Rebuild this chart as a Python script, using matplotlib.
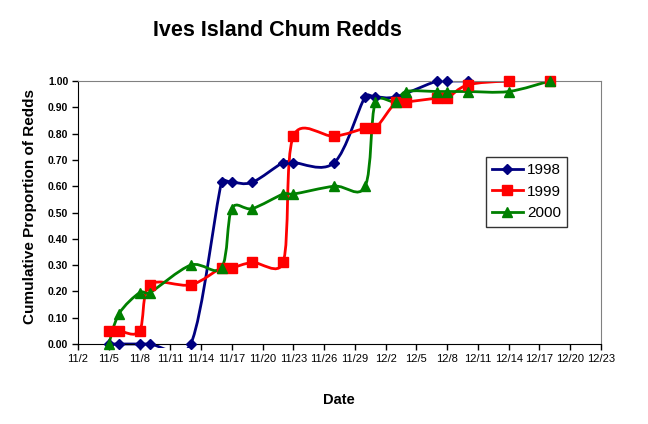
import datetime as dt
import numpy as np
import matplotlib
matplotlib.use("Agg")
import matplotlib.pyplot as plt
from matplotlib.path import Path
from matplotlib.patches import PathPatch, Rectangle
from matplotlib.lines import Line2D

plt.rcParams['font.family'] = ['Liberation Sans', 'DejaVu Sans']

# ---------------------------------------------------------------------------
# data
# ---------------------------------------------------------------------------
dates_1998 = ["11/5", "11/6", "11/8", "11/9", "11/13", "11/16", "11/17", "11/19",
              "11/22", "11/23", "11/27", "11/30", "12/1", "12/3", "12/7", "12/8",
              "12/10", "12/14"]
vals_1998 = [0.00, 0.00, 0.00, 0.00, 0.00, 0.615, 0.615, 0.615,
             0.69, 0.69, 0.69, 0.94, 0.94, 0.94, 1.00, 1.00,
             1.00, 1.00]

dates_1999 = ["11/5", "11/6", "11/8", "11/9", "11/13", "11/16", "11/17", "11/19",
              "11/22", "11/23", "11/27", "11/30", "12/1", "12/3", "12/4", "12/7",
              "12/8", "12/10", "12/14", "12/18"]
vals_1999 = [0.05, 0.05, 0.05, 0.225, 0.225, 0.29, 0.29, 0.31,
             0.31, 0.79, 0.79, 0.82, 0.82, 0.92, 0.92, 0.935,
             0.935, 0.985, 1.00, 1.00]

dates_2000 = ["11/5", "11/6", "11/8", "11/9", "11/13", "11/16", "11/17", "11/19",
              "11/22", "11/23", "11/27", "11/30", "12/1", "12/3", "12/4", "12/7",
              "12/8", "12/10", "12/14", "12/18"]
vals_2000 = [0.00, 0.115, 0.195, 0.195, 0.30, 0.29, 0.515, 0.515,
             0.57, 0.57, 0.60, 0.60, 0.92, 0.92, 0.96, 0.96,
             0.96, 0.96, 0.96, 1.00]

tick_labels = ["11/2", "11/5", "11/8", "11/11", "11/14", "11/17", "11/20",
               "11/23", "11/26", "11/29", "12/2", "12/5", "12/8", "12/11",
               "12/14", "12/17", "12/20", "12/23"]

START = dt.date(2000, 11, 2)
X_SPAN, Y_SPAN = 51, 1.0
PX_W, PX_H = 601 - 78, 344 - 81


def day_num(s):
    m, d = (int(v) for v in s.split("/"))
    return (dt.date(2000, m, d) - START).days


def smooth_path(x, y):
    # Excel-like smoothed line: Bezier segments, Catmull-Rom tangents (1/6),
    # capped at half the segment length (measured on screen)
    p = np.column_stack([x, y]).astype(float)
    sc = np.array([PX_W / X_SPAN, PX_H / Y_SPAN])
    n = len(p)

    def d(a, b):
        return np.hypot(*((b - a) * sc))

    verts = [p[0]]
    codes = [Path.MOVETO]
    for i in range(n - 1):
        p0 = p[i - 1] if i > 0 else p[i]
        p3 = p[i + 2] if i + 2 < n else p[i + 1]
        p1, p2 = p[i], p[i + 1]
        d12 = d(p1, p2)
        d02, d13 = d(p0, p2), d(p1, p3)
        f1 = 1 / 6 if d02 / 6 < d12 / 2 else d12 / (2 * d02)
        f2 = 1 / 6 if d13 / 6 < d12 / 2 else d12 / (2 * d13)
        c1 = p1 + f1 * (p2 - p0)
        c2 = p2 - f2 * (p3 - p1)
        verts += [c1, c2, p2]
        codes += [Path.CURVE4] * 3
    return Path(verts, codes)


series = [
    ("1998", dates_1998, vals_1998, "#000080", "D", 5.5),
    ("1999", dates_1999, vals_1999, "#FF0000", "s", 7),
    ("2000", dates_2000, vals_2000, "#008000", "^", 7),
]

fig = plt.figure(figsize=(6.48, 4.24), dpi=100)
ax = fig.add_axes([78 / 648, 1 - 344 / 424, PX_W / 648, PX_H / 424])

# clip a few pixels below the plot area, like the original
clip_rect = Rectangle((0, -0.015), 1, 1.015, transform=ax.transAxes,
                      facecolor="none", edgecolor="none")
ax.add_patch(clip_rect)

handles = []
for name, ds, vs, col, mk, ms in series:
    xs = [day_num(s) for s in ds]
    pp = PathPatch(smooth_path(xs, vs), facecolor="none", edgecolor=col,
                   lw=2, zorder=2)
    ax.add_patch(pp)
    pp.set_clip_path(clip_rect)
    ax.plot(xs, vs, ls="none", marker=mk, ms=ms, color=col, zorder=3, clip_on=False)
    handles.append(Line2D([], [], color=col, lw=2, marker=mk, ms=ms))

ax.set_xlim(0, X_SPAN)
ax.set_ylim(0, Y_SPAN)
ax.set_xticks([day_num(s) for s in tick_labels])
ax.set_xticklabels(tick_labels, fontsize=8)
ax.set_yticks(np.arange(0, 1.01, 0.1))
ax.set_yticklabels([f"{v:.2f}" for v in np.arange(0, 1.01, 0.1)],
                   fontsize=7.5, fontweight="bold")
ax.tick_params(direction="out", length=4, width=1, color="black", pad=3)

for side in ("top", "right"):
    ax.spines[side].set_color("#808080")
for side in ("left", "bottom"):
    ax.spines[side].set_color("black")

fig.text(277 / 648, 1 - 31 / 424, "Ives Island Chum Redds", ha="center",
         va="center", fontsize=15.5, fontweight="bold")
fig.text(339 / 648, 1 - 400 / 424, "Date", ha="center", va="center",
         fontsize=10.5, fontweight="bold")
fig.text(30 / 648, 1 - 206 / 424, "Cumulative Proportion of Redds", ha="center",
         va="center", rotation=90, fontsize=11, fontweight="bold")

leg = fig.legend(handles, ["1998", "1999", "2000"], loc="upper left",
                 bbox_to_anchor=(486 / 648, 1 - 157 / 424), fontsize=11,
                 frameon=True, fancybox=False, edgecolor="black",
                 handlelength=2.0, borderpad=0.4, labelspacing=0.5,
                 handletextpad=0.3, borderaxespad=0)
leg.get_frame().set_linewidth(1)

fig.savefig("out.png", dpi=100)
